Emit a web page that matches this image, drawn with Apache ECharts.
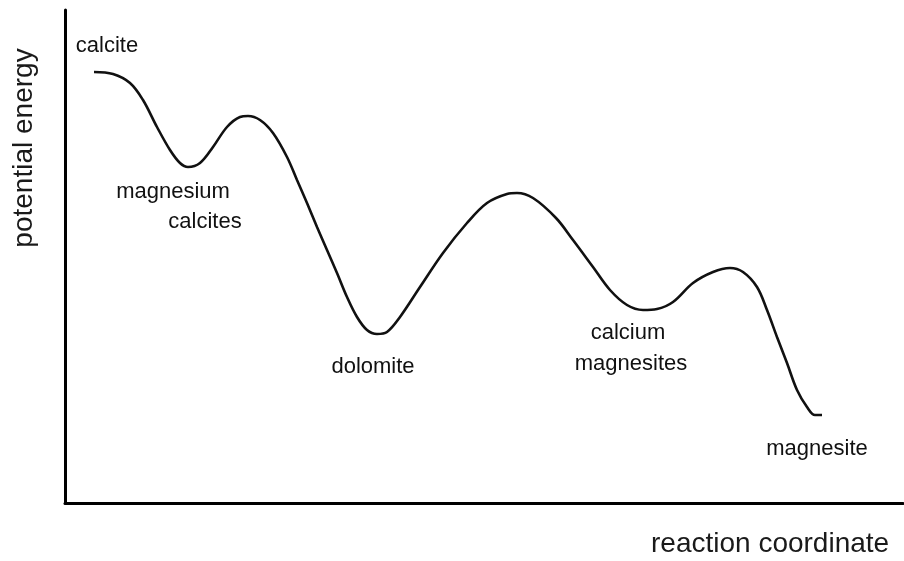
<!DOCTYPE html>
<html>
<head>
<meta charset="utf-8">
<script src="https://cdn.jsdelivr.net/npm/echarts@6/dist/echarts.min.js"></script>
<style>
  html, body { margin: 0; padding: 0; background: #fff; }
  #chart { width: 904px; height: 561px; }
</style>
</head>
<body>
<div id="chart"></div>
<script>
// energy profile (x: reaction progress, y: potential energy)
const curveX = [29, 48, 65, 78, 92, 105, 115, 123, 135, 148, 162, 175, 183, 195, 208, 222, 232, 242, 252,
  262, 272, 282, 292, 302, 312, 322, 335, 355, 378, 402, 422, 442, 452, 468, 491, 508, 528, 545, 562,
  578, 592, 608, 628, 648, 665, 678, 692, 702, 712, 722, 732, 742, 750, 757];
const curveY = [431, 429, 420, 403, 376, 353, 340, 336, 340, 356, 376, 386, 387, 383, 370, 346, 323, 300, 276,
  253, 230, 206, 186, 173, 169, 171, 186, 216, 250, 280, 300, 309, 310, 305, 285, 263, 236, 213, 198,
  193, 194, 201, 220, 231, 235, 231, 216, 193, 166, 140, 113, 96, 88, 88];

const labelNames = ["calcite", "magnesium", "calcites", "dolomite", "calcium", "magnesites", "magnesite"];
const labelX = [42, 108, 140, 308, 563, 566, 752];
const labelY = [457, 311, 281, 136, 170, 139, 54];

const FONT = "Liberation Sans, Arial, sans-serif";

const chart = echarts.init(document.getElementById("chart"), null, { renderer: "canvas" });

const option = {
  animation: false,
  backgroundColor: "#fff",
  grid: { left: 65, right: 1, top: 10, bottom: 58 },
  xAxis: {
    type: "value",
    min: 0,
    max: 838,
    axisLine: { show: true, lineStyle: { color: "#000", width: 3 } },
    axisTick: { show: false },
    axisLabel: { show: false },
    splitLine: { show: false },
  },
  yAxis: {
    type: "value",
    min: 0,
    max: 493,
    axisLine: { show: true, lineStyle: { color: "#000", width: 3 } },
    axisTick: { show: false },
    axisLabel: { show: false },
    splitLine: { show: false },
  },
  series: [
    {
      type: "line",
      data: curveX.map((x, i) => [x, curveY[i]]),
      smooth: 0.35,
      showSymbol: false,
      lineStyle: { color: "#111", width: 2.6 },
    },
    {
      type: "scatter",
      symbolSize: 0,
      itemStyle: { opacity: 1 },
      data: labelX.map((x, i) => ({ value: [x, labelY[i]], name: labelNames[i] })),
      label: {
        show: true,
        position: "inside",
        formatter: (p) => p.name,
        color: "#111",
        opacity: 1,
        fontSize: 22,
        fontFamily: FONT,
      },
    },
  ],
  graphic: [
    {
      type: "text",
      left: 651,
      top: 530,
      style: { text: "reaction coordinate", fontSize: 28, fontFamily: FONT, fill: "#1a1a1a" },
    },
    {
      type: "text",
      x: 10,
      y: 148,
      rotation: Math.PI / 2,
      style: {
        text: "potential energy",
        fontSize: 28,
        fontFamily: FONT,
        fill: "#1a1a1a",
        align: "center",
        verticalAlign: "top",
      },
    },
  ],
};

chart.setOption(option);
</script>
</body>
</html>
